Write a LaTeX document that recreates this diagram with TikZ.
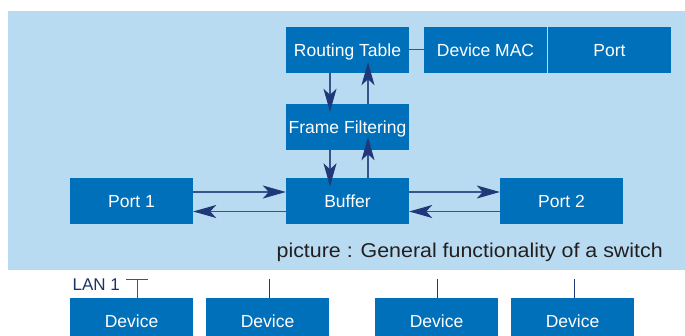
\documentclass[tikz,border=0pt]{standalone}
\usepackage{fontspec}
\setmainfont{Liberation Sans}
\usetikzlibrary{arrows.meta,calc}
\definecolor{bgblue}{RGB}{185,219,242}
\definecolor{boxblue}{RGB}{0,112,186}
\definecolor{navy}{RGB}{30,56,120}
\definecolor{linkcol}{RGB}{55,84,138}
\definecolor{captxt}{RGB}{35,31,32}
\definecolor{lantxt}{RGB}{30,50,100}
\begin{document}
\begin{tikzpicture}[x=1pt,y=-1pt,
  box/.style={fill=boxblue, text=white, inner sep=0pt, minimum width=123pt, minimum height=46pt, text height=13pt, text depth=0pt, font=\fontsize{17.5}{19}\selectfont},
  arr/.style={draw=linkcol, line width=1.1pt, -{Stealth[length=23pt,width=13pt,inset=6pt,color=navy]}},
  link/.style={draw=linkcol, line width=1pt}]
\clip (0,0) rectangle (685,336);
\fill[bgblue] (8,11) rectangle (685,270);
% top row
\node[box] (rt) at (347.5,50) {Routing Table};
\node[box] (mac) at (485.5,50) {Device MAC};
\node[box] (port) at (609.5,50) {Port};
\node[box] (ff) at (347.5,127) {Frame Filtering};
\node[box] (buf) at (347.5,201.5) {Buffer};
\node[box] (p1) at (131.5,201.5) {Port 1};
\node[box] (p2) at (561.5,201.5) {Port 2};
% connectors
\draw[link] (rt.east) -- (mac.west);
\draw[arr, shorten >=-8pt] ([xshift=-17.5pt]rt.south) -- ([xshift=-17.5pt]ff.north);
\draw[arr, shorten >=-11pt] ([xshift=20.5pt]ff.north) -- ([xshift=20.5pt]rt.south);
\draw[arr, shorten >=-8pt] ([xshift=-17.5pt]ff.south) -- ([xshift=-17.5pt]buf.north);
\draw[arr, shorten >=-13pt] ([xshift=20.5pt]buf.north) -- ([xshift=20.5pt]ff.south);
\draw[arr] ([yshift=9.5pt]p1.east) -- ([yshift=9.5pt]buf.west);
\draw[arr] ([yshift=-10pt]buf.west) -- ([yshift=-10pt]p1.east);
\draw[arr] ([yshift=9.5pt]buf.east) -- ([yshift=9.5pt]p2.west);
\draw[arr] ([yshift=-10pt]p2.west) -- ([yshift=-10pt]buf.east);
% caption
\node[anchor=base east, inner sep=0pt, text=captxt, font=\fontsize{20}{22}\selectfont] (cap) at (663,257.3) {\scalebox{1.07}[1]{picture : General functionality of a switch}};
% LAN row
\node[anchor=base west, inner sep=0pt, text=lantxt, font=\fontsize{17}{19}\selectfont] (lan) at (72.5,290.7) {LAN 1};
\node[box] (d1) at (131.5,321) {Device};
\node[box] (d2) at (267.5,321) {Device};
\node[box] (d3) at (436.5,321) {Device};
\node[box] (d4) at (572.5,321) {Device};
\coordinate (tl) at (126,280);
\coordinate (tr) at (148,280);
\coordinate (tm) at (137,280);
\coordinate (t2) at (269,279);
\coordinate (t3) at (437,279);
\coordinate (t4) at (574,279);
\draw[link] (tl) -- (tr);
\draw[link] (tm) -- (tm |- d1.north);
\draw[link, draw=navy] (t2) -- (t2 |- d2.north);
\draw[link, draw=navy] (t3) -- (t3 |- d3.north);
\draw[link, draw=navy] (t4) -- (t4 |- d4.north);
\end{tikzpicture}
\end{document}
